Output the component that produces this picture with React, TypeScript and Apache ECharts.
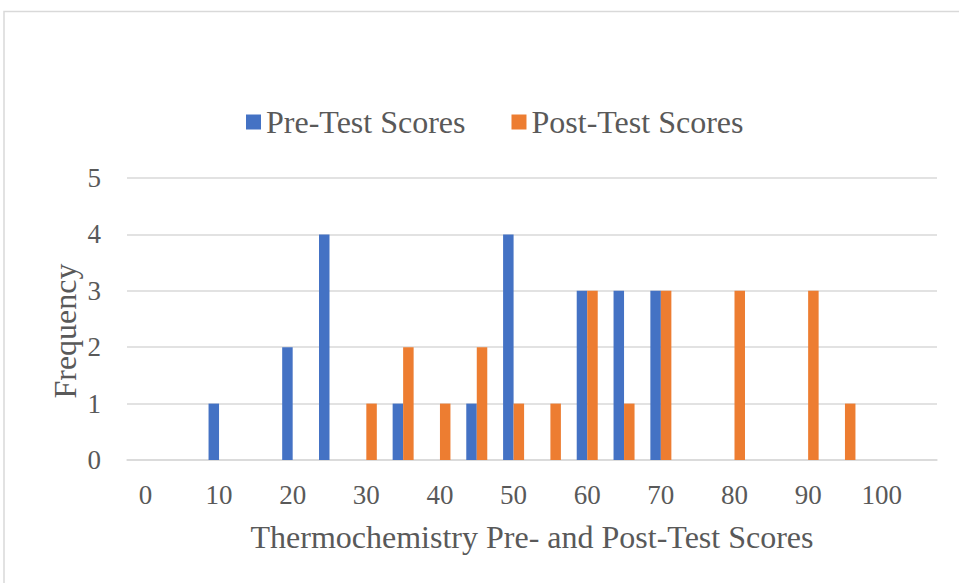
import React, { useEffect, useRef } from "react";
import * as echarts from "echarts";

const categories = ["0", "5", "10", "15", "20", "25", "30", "35", "40", "45", "50", "55", "60", "65", "70", "75", "80", "85", "90", "95", "100", "105"];
const preTest = [0, 0, 1, 0, 2, 4, 0, 1, 0, 1, 4, 0, 3, 3, 3, 0, 0, 0, 0, 0, 0, 0];
const postTest = [0, 0, 0, 0, 0, 0, 1, 2, 1, 2, 1, 1, 3, 1, 3, 0, 3, 0, 3, 1, 0, 0];
const seriesNames = ["Pre-Test Scores", "Post-Test Scores"];
const xTitle = "Thermochemistry Pre- and Post-Test Scores";
const yTitle = "Frequency";

const FONT = "'Liberation Serif', 'Times New Roman', serif";
const TEXT = "#595959";
const GRID = "#d9d9d9";

export default function App() {
  const ref = useRef<HTMLDivElement>(null);
  useEffect(() => {
    if (!ref.current) return;
    const chart = echarts.init(ref.current, null, { renderer: "svg" });
    chart.setOption({
      animation: false,
      color: ["#4472C4", "#ED7D31"],
      textStyle: { fontFamily: FONT, color: TEXT },
      graphic: [
        {
          type: "rect",
          shape: { x: 4, y: 11.5, width: 2000, height: 2000 },
          style: { fill: "none", stroke: GRID, lineWidth: 1.5 },
          silent: true,
        },
        {
          type: "text",
          x: 65,
          y: 331,
          rotation: Math.PI / 2,
          style: {
            text: yTitle,
            fontSize: 32,
            fontFamily: FONT,
            fill: TEXT,
            align: "center",
            verticalAlign: "middle",
          },
        },
      ],
      legend: {
        left: 241,
        top: 101,
        itemWidth: 15,
        itemHeight: 15,
        itemGap: 46,
        icon: "rect",
        textStyle: { fontSize: 32, fontFamily: FONT, color: TEXT },
        data: seriesNames,
      },
      grid: { left: 127, right: 22, top: 178, bottom: 123, containLabel: false },
      xAxis: {
        type: "category",
        data: categories,
        name: xTitle,
        nameLocation: "middle",
        nameGap: 61,
        nameTextStyle: { fontSize: 32, fontFamily: FONT, color: TEXT },
        axisTick: { show: false },
        axisLine: { lineStyle: { color: GRID, width: 1.5 } },
        axisLabel: { interval: 1, fontSize: 27, fontFamily: FONT, color: TEXT, margin: 21 },
      },
      yAxis: {
        type: "value",
        min: 0,
        max: 5,
        interval: 1,
        axisLine: { show: false },
        axisTick: { show: false },
        splitLine: { lineStyle: { color: GRID, width: 1.5 } },
        axisLabel: { fontSize: 27, fontFamily: FONT, color: TEXT, margin: 26 },
      },
      series: [
        { name: seriesNames[0], type: "bar", data: preTest, barWidth: 10.5, barGap: "0%" },
        { name: seriesNames[1], type: "bar", data: postTest, barWidth: 10.5, barGap: "0%" },
      ],
    });
    return () => chart.dispose();
  }, []);
  return (
    <div
      ref={ref}
      style={{ position: "fixed", left: 0, top: 0, width: 959, height: 583, background: "#fff" }}
    />
  );
}
